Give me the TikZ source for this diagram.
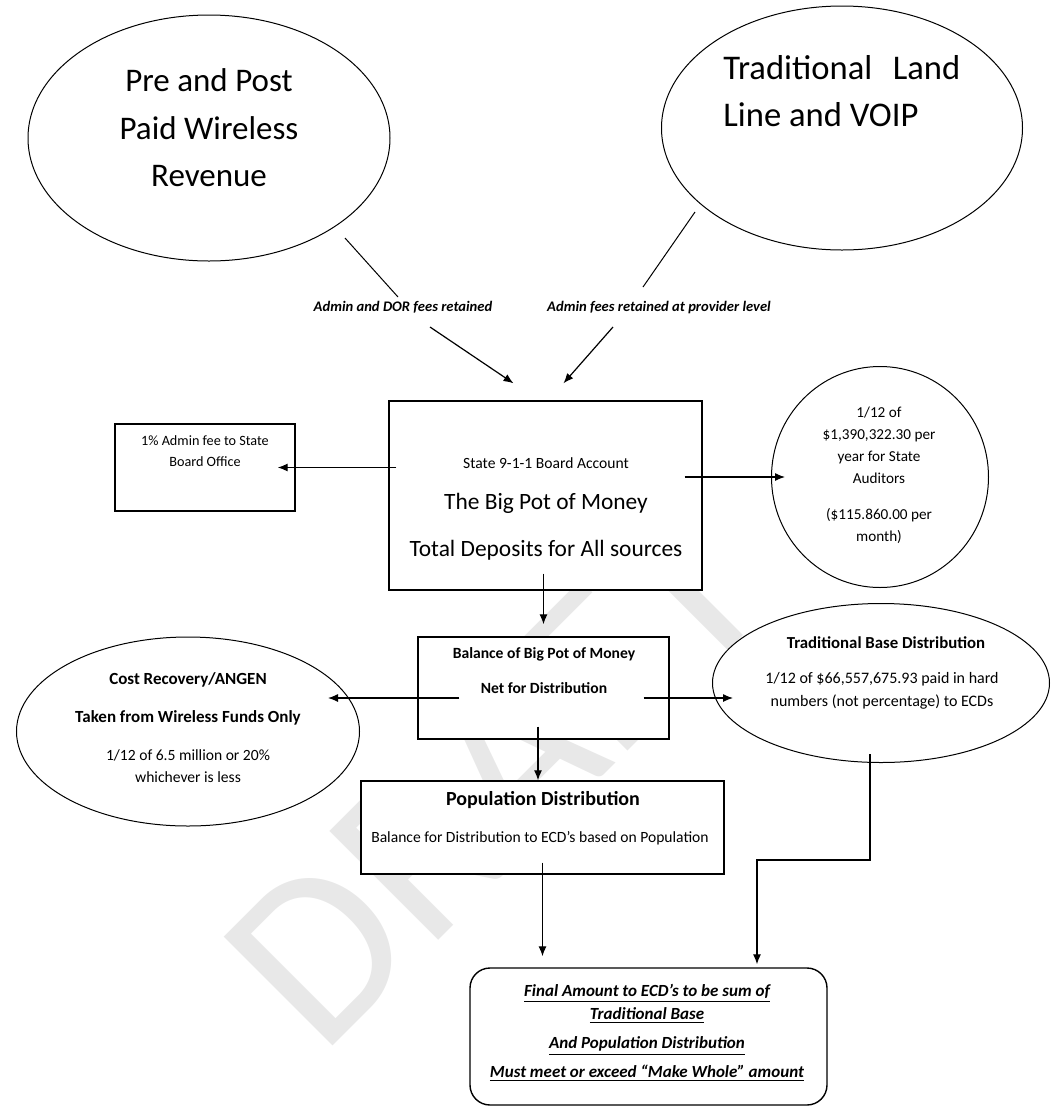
\documentclass[tikz,border=0pt]{standalone}
\usepackage{fontspec}
\setmainfont{Carlito}
\usetikzlibrary{arrows.meta,shapes.geometric}
\newcommand{\fsz}[2]{\fontsize{#1}{#2}\selectfont}

\begin{document}
\begin{tikzpicture}[x=0.5pt,y=-0.5pt]
    \tikzset{
        blob/.style={draw, fill=white, ellipse, line width=0.5pt, inner sep=0pt},
        potbox/.style={draw, fill=white, rectangle, line width=0.7pt, inner sep=0pt},
        txt/.style={align=center, inner sep=0pt},
        note/.style={inner sep=0pt, anchor=base, font=\fsz{7.3}{9}\bfseries\itshape},
        flow/.style={-{Latex[length=5pt,width=4pt]}, line width=0.6pt},
    }
    \useasboundingbox (0,0) rectangle (1051,1110);
    % watermark, behind the white shapes
    \node[text=gray!18, font=\fsz{120}{120}, rotate=45] (draft) at (495,775) {DRAFT};
    % sources
    \node[blob, minimum width=181pt, minimum height=123pt] (wless) at (209,138) {};
    \node[txt, font=\fsz{16.5}{23.7}] (wlesstxt) at (209,128) {Pre and Post\\Paid Wireless\\Revenue};
    \node[blob, minimum width=180.5pt, minimum height=122pt] (land) at (842,128) {};
    \node[txt, anchor=west, align=left, font=\fsz{17.3}{23.5}] (landtxt) at (723,91) {\makebox[118.5pt][s]{Traditional Land}\\Line and VOIP};
    \node[note] (dorfee) at (403,311) {Admin and DOR fees retained};
    \node[note] (provfee) at (659,311) {Admin fees retained at provider level};
    % the big pot
    \node[potbox, minimum width=156.5pt, minimum height=94.5pt] (pot) at (545.5,495.5) {};
    \node[txt, font=\fsz{7.8}{10}] (pottop) at (546,463) {State 9-1-1 Board Account};
    \node[txt, font=\fsz{11.7}{14}] (potmid) at (546,503) {The Big Pot of Money};
    \node[txt, font=\fsz{11.7}{14}] (potbot) at (546,550) {Total Deposits for All sources};
    \node[potbox, minimum width=90pt, minimum height=43.5pt] (office) at (205,467.5) {};
    \node[txt, font=\fsz{7.1}{10.5}] (officetxt) at (205,451.5) {1\% Admin fee to State\\Board Office};
    \node[blob, minimum width=108.5pt, minimum height=110.5pt] (audit) at (880,477) {};
    \node[txt, font=\fsz{7.6}{11}] (audittxt) at (879,475) {1/12 of\\\$1,390,322.30 per\\year for State\\Auditors\\[7pt](\$115.860.00 per\\month)};
    % balance
    \node[potbox, minimum width=125.5pt, minimum height=51pt] (bal) at (543.5,688) {};
    \node[txt, font=\fsz{7.8}{17.5}\bfseries] (baltxt) at (544,671) {Balance of Big Pot of Money\\Net for Distribution};
    \node[blob, minimum width=171.5pt, minimum height=94.5pt] (angen) at (188,731.5) {};
    \node[txt, font=\fsz{8.5}{19}\bfseries] (angentxt) at (188,699) {Cost Recovery/ANGEN\\Taken from Wireless Funds Only};
    \node[txt, font=\fsz{7.8}{11}] (angenamt) at (188,766) {1/12 of 6.5 million or 20\%\\whichever is less};
    \node[blob, minimum width=168.5pt, minimum height=79.5pt] (trad) at (881,683) {};
    \node[txt, font=\fsz{8.4}{11}\bfseries] (tradtitle) at (886,643) {Traditional Base Distribution};
    \node[txt, font=\fsz{8}{11.5}] (tradtxt) at (882,690.5) {1/12 of \$66,557,675.93 paid in hard\\numbers (not percentage) to ECDs};
    % population
    \node[potbox, minimum width=181.5pt, minimum height=46.5pt] (pop) at (542.5,827.5) {};
    \node[txt, font=\fsz{10}{12}\bfseries] (poptitle) at (543,800) {Population Distribution};
    \node[txt, font=\fsz{7.8}{10}] (poptxt) at (540,838) {Balance for Distribution to ECD's based on Population};
    % final amount
    \node[potbox, rounded corners=10pt, minimum width=178.5pt, minimum height=68.5pt] (final) at (648.5,1036.5) {};
    \node[txt, font=\fsz{8.5}{11.5}\bfseries\itshape] (finaltxt) at (647,1033) {\underline{Final Amount to ECD's to be sum of}\\\underline{Traditional Base}\\[3pt]\underline{And Population Distribution}\\[3pt]\underline{Must meet or exceed ``Make Whole'' amount}};
    % free ends of the connectors
    \coordinate (wlessend) at (345,238);
    \coordinate (dorend) at (398,297);
    \coordinate (landend) at (695,212);
    \coordinate (provend) at (643,287);
    \coordinate (dorstart) at (430,327);
    \coordinate (provstart) at (613,327);
    \coordinate (tradcorner) at (870,860);
    % connectors
    \draw[line width=0.5pt] (wlessend) -- (dorend);
    \draw[line width=0.5pt] (landend) -- (provend);
    \draw[flow] (dorstart) -- ([shift={(-16pt,8.5pt)}]pot.north);
    \draw[flow] (provstart) -- ([shift={(9pt,8.5pt)}]pot.north);
    \draw[flow] ([xshift=4pt]pot.west |- office) -- ([xshift=-9pt]office.east);
    \draw[flow] ([xshift=-9pt]pot.east |- audit) -- ([xshift=7pt]audit.west);
    \draw[flow] ([yshift=8.5pt]pot.south -| bal) -- ([yshift=6pt]bal.north);
    \draw[flow] ([shift={(21pt,-5pt)}]bal.west) -- ([shift={(-16pt,-5pt)}]bal.west -| angen.east);
    \draw[flow] ([shift={(-13pt,-5pt)}]bal.east) -- ([shift={(10.5pt,-5pt)}]bal.east -| trad.west);
    \draw[flow] ([shift={(-2.75pt,6.5pt)}]bal.south) -- ([xshift=-2.25pt]pop.north);
    \draw[flow] ([yshift=6pt]pop.south) -- ([yshift=5.5pt]final.north -| pop);
    \draw[flow] ([yshift=4.5pt]trad.south -| tradcorner) -- (tradcorner) -| ([shift={(54.25pt,1.5pt)}]final.north);
\end{tikzpicture}
\end{document}
